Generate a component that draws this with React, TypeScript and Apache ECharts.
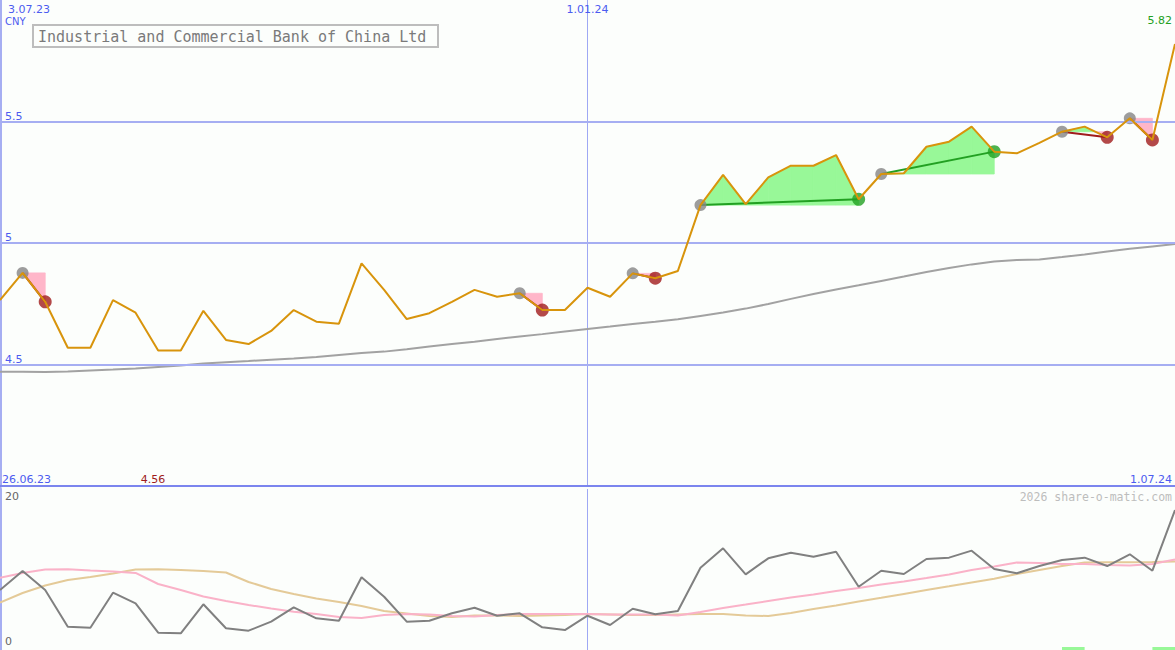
import React, { useEffect, useRef } from "react";
import * as echarts from "echarts";

const dates = [
  "3.07.23", "10.07.23", "17.07.23", "24.07.23", "31.07.23", "7.08.23", "14.08.23", "21.08.23", "28.08.23",
  "4.09.23", "11.09.23", "18.09.23", "25.09.23", "2.10.23", "9.10.23", "16.10.23", "23.10.23", "30.10.23",
  "6.11.23", "13.11.23", "20.11.23", "27.11.23", "4.12.23", "11.12.23", "18.12.23", "25.12.23", "1.01.24",
  "8.01.24", "15.01.24", "22.01.24", "29.01.24", "5.02.24", "12.02.24", "19.02.24", "26.02.24", "4.03.24",
  "11.03.24", "18.03.24", "25.03.24", "1.04.24", "8.04.24", "15.04.24", "22.04.24", "29.04.24", "6.05.24",
  "13.05.24", "20.05.24", "27.05.24", "3.06.24", "10.06.24", "17.06.24", "24.06.24", "1.07.24",
];

const close = [
  4.765, 4.877, 4.758, 4.569, 4.569, 4.765, 4.713, 4.558, 4.558, 4.721,
  4.601, 4.584, 4.638, 4.724, 4.676, 4.668, 4.916, 4.807, 4.687, 4.711,
  4.758, 4.807, 4.779, 4.793, 4.724, 4.724, 4.816, 4.779, 4.875, 4.855,
  4.885, 5.156, 5.280, 5.160, 5.270, 5.318, 5.318, 5.362, 5.180, 5.284,
  5.287, 5.396, 5.417, 5.479, 5.376, 5.369, 5.412, 5.458, 5.479, 5.435,
  5.513, 5.424, 5.819,
];

const trendMA = [
  4.470, 4.470, 4.469, 4.471, 4.475, 4.479, 4.484, 4.490, 4.496, 4.504,
  4.509, 4.514, 4.520, 4.525, 4.531, 4.539, 4.547, 4.553, 4.563, 4.574,
  4.584, 4.594, 4.605, 4.615, 4.625, 4.636, 4.646, 4.656, 4.667, 4.676,
  4.686, 4.700, 4.714, 4.730, 4.749, 4.770, 4.790, 4.809, 4.826, 4.844,
  4.862, 4.881, 4.897, 4.912, 4.924, 4.930, 4.932, 4.942, 4.953, 4.965,
  4.976, 4.986, 4.996,
];

const oscMain = [
  7.45, 9.81, 7.45, 2.89, 2.77, 7.12, 5.80, 2.15, 2.07, 5.68,
  2.70, 2.40, 3.52, 5.30, 3.94, 3.64, 9.03, 6.62, 3.52, 3.64,
  4.56, 5.25, 4.26, 4.56, 2.82, 2.48, 4.26, 3.11, 5.13, 4.43,
  4.84, 10.22, 12.63, 9.40, 11.39, 12.09, 11.59, 12.21, 7.86, 9.85,
  9.44, 11.30, 11.47, 12.34, 10.06, 9.53, 10.43, 11.18, 11.47, 10.43,
  11.89, 9.85, 17.39,
];

const oscFast = [
  8.98, 9.57, 10.0, 10.02, 9.88, 9.75, 9.57, 8.20, 7.45, 6.65,
  6.09, 5.59, 5.16, 4.76, 4.47, 4.10, 3.98, 4.35, 4.47, 4.41,
  4.22, 4.16, 4.35, 4.47, 4.47, 4.47, 4.47, 4.41, 4.41, 4.41,
  4.29, 4.72, 5.22, 5.65, 6.09, 6.52, 6.89, 7.33, 7.70, 8.14,
  8.51, 8.94, 9.38, 9.94, 10.37, 10.87, 10.81, 10.68, 10.68, 10.56,
  10.50, 10.68, 11.24,
];

const oscSlow = [
  5.88, 7.08, 8.01, 8.70, 9.07, 9.50, 10.0, 10.02, 9.94, 9.81,
  9.63, 8.45, 7.58, 6.96, 6.40, 5.96, 5.47, 4.84, 4.53, 4.22,
  4.10, 4.29, 4.29, 4.22, 4.29, 4.35, 4.47, 4.41, 4.35, 4.35,
  4.41, 4.47, 4.47, 4.29, 4.22, 4.60, 5.09, 5.53, 6.02, 6.48,
  6.97, 7.45, 7.91, 8.39, 8.84, 9.44, 9.94, 10.43, 10.87, 10.89,
  10.89, 10.93, 10.99,
];

const tradeEntry = [1, 23, 28, 31, 39, 47, 50];
const tradeExit = [2, 24, 29, 38, 44, 49, 51];
const flagStart = [47, 51];
const priceTicks = [4.5, 5, 5.5];
const lowerTicks = [0, 20];

const BLUE_TEXT = "#4c5cf0";
const GRID_BLUE = "#a6aef2";
const VLINE_BLUE = "#9ea8f4";
const GREEN_FILL = "#98f898";
const PINK_FILL = "#ffb6c9";
const WIN = "#22a022";
const LOSS = "#a01c1c";

export default function App() {
  const ref = useRef<HTMLDivElement>(null);

  useEffect(() => {
    const chart = echarts.init(ref.current!, null, { renderer: "svg" });

    const hi = Math.max(...close);
    const lo = Math.min(...close);
    const firstMonth = 0;
    const yearMark = dates.indexOf("1.01.24");

    const tradeData = tradeEntry.map((e, k) => [e, tradeExit[k], close[e]]);

    const option: any = {
      animation: false,
      backgroundColor: "#fcfefc",
      grid: [
        { left: 0, right: 0, top: 0, height: 486 },
        { left: 0, right: 0, top: 489, height: 161 },
      ],
      xAxis: [
        {
          type: "category", gridIndex: 0, data: dates, boundaryGap: false, position: "bottom",
          axisLine: { show: true, lineStyle: { color: "#7b85ee", width: 2 } },
          axisTick: { show: false }, axisLabel: { show: false },
          splitLine: { show: true, interval: (i: number) => i === yearMark, lineStyle: { color: VLINE_BLUE, width: 1 } },
        },
        {
          type: "category", gridIndex: 0, data: dates, boundaryGap: false, position: "top",
          axisLine: { show: false }, axisTick: { show: false }, splitLine: { show: false },
          axisLabel: {
            show: true, inside: true, margin: 4, verticalAlign: "top",
            interval: (i: number) => i === yearMark,
            color: BLUE_TEXT, fontSize: 11, fontFamily: "DejaVu Sans",
          },
        },
        {
          type: "category", gridIndex: 1, data: dates, boundaryGap: false,
          axisLine: { show: false }, axisTick: { show: false }, axisLabel: { show: false },
          splitLine: { show: true, interval: (i: number) => i === yearMark, lineStyle: { color: VLINE_BLUE, width: 1 } },
        },
      ],
      yAxis: [
        {
          type: "value", gridIndex: 0, min: 4, max: 6, interval: 0.5,
          axisLine: { show: true, lineStyle: { color: GRID_BLUE, width: 4 } },
          axisTick: { show: false }, splitLine: { show: false },
          axisLabel: {
            inside: true, margin: 5, verticalAlign: "bottom", padding: [0, 0, 0, 0],
            color: BLUE_TEXT, fontSize: 11, fontFamily: "DejaVu Sans",
            formatter: (v: number) => (priceTicks.includes(v) ? String(v) : ""),
          },
        },
        {
          type: "value", gridIndex: 1, min: 0, max: 20, interval: 20,
          axisLine: { show: true, lineStyle: { color: GRID_BLUE, width: 4 } },
          axisTick: { show: false }, splitLine: { show: false },
          axisLabel: {
            inside: true, margin: 5, verticalAlign: "top", padding: [2, 0, 0, 0],
            color: "#666666", fontSize: 11, fontFamily: "DejaVu Sans",
            formatter: (v: number) => (v === lowerTicks[1] ? String(v) : ""),
          },
        },
        {
          type: "value", gridIndex: 1, min: 0, max: 20, interval: 20, position: "left",
          axisLine: { show: false }, axisTick: { show: false }, splitLine: { show: false },
          axisLabel: {
            inside: true, margin: 5, verticalAlign: "bottom", padding: [0, 0, 3, 0],
            color: "#666666", fontSize: 11, fontFamily: "DejaVu Sans",
            formatter: (v: number) => (v === lowerTicks[0] ? String(v) : ""),
          },
        },
      ],
      series: [
        {
          type: "line", name: "trend", xAxisIndex: 0, yAxisIndex: 0, data: trendMA,
          showSymbol: false, z: 2,
          lineStyle: { color: "#a2a2a2", width: 2 },
          markLine: {
            silent: true, symbol: ["none", "none"], label: { show: false },
            lineStyle: { color: GRID_BLUE, width: 2, type: "solid" },
            data: priceTicks.map((v) => ({ yAxis: v })),
          },
        },
        {
          type: "custom", name: "trades", xAxisIndex: 0, yAxisIndex: 0, z: 3,
          data: tradeData,
          encode: { x: 0, y: 2 },
          renderItem: (params: any, api: any) => {
            const k = params.dataIndex;
            const e = tradeEntry[k];
            const x = tradeExit[k];
            const base = close[e];
            const children: any[] = [];
            const col = (d: number) => (d >= 0 ? GREEN_FILL : PINK_FILL);
            const poly = (pts: number[][], c: string) => ({
              type: "polygon", shape: { points: pts }, style: { fill: c, stroke: c, lineWidth: 0.8 },
            });
            for (let j = e; j < x; j++) {
              const p0 = close[j];
              const p1 = close[j + 1];
              const d0 = p0 - base;
              const d1 = p1 - base;
              const a = api.coord([j, p0]);
              const b = api.coord([j + 1, p1]);
              const a0 = api.coord([j, base]);
              const b0 = api.coord([j + 1, base]);
              if (d0 * d1 >= 0) {
                const d = Math.abs(d0) > Math.abs(d1) ? d0 : d1;
                children.push(poly([a, b, b0, a0], col(d)));
              } else {
                const t = d0 / (d0 - d1);
                const m = [a0[0] + t * (b0[0] - a0[0]), a0[1]];
                children.push(poly([a, m, a0], col(d0)));
                children.push(poly([m, b, b0], col(d1)));
              }
            }
            const s = api.coord([e, base]);
            const f = api.coord([x, close[x]]);
            children.push({
              type: "line",
              shape: { x1: s[0], y1: s[1], x2: f[0], y2: f[1] },
              style: { stroke: close[x] >= base ? WIN : LOSS, lineWidth: 2 },
            });
            return { type: "group", children };
          },
        },
        {
          type: "scatter", name: "entry", xAxisIndex: 0, yAxisIndex: 0, z: 4,
          symbolSize: 12,
          itemStyle: { color: "#858585" },
          data: tradeEntry.map((e) => [e, close[e]]),
        },
        {
          type: "scatter", name: "exit", xAxisIndex: 0, yAxisIndex: 0, z: 4,
          symbolSize: 13,
          data: tradeExit.map((x, k) => ({
            value: [x, close[x]],
            itemStyle: { color: close[x] >= close[tradeEntry[k]] ? WIN : LOSS },
          })),
        },
        {
          type: "line", name: "close", xAxisIndex: 0, yAxisIndex: 0, data: close,
          showSymbol: false, z: 6,
          lineStyle: { color: "#d8940c", width: 2 },
        },
        {
          type: "line", name: "slow", xAxisIndex: 2, yAxisIndex: 1, data: oscSlow,
          showSymbol: false, z: 2, lineStyle: { color: "#e4ca98", width: 2 },
        },
        {
          type: "line", name: "fast", xAxisIndex: 2, yAxisIndex: 1, data: oscFast,
          showSymbol: false, z: 3, lineStyle: { color: "#fab2c8", width: 2 },
        },
        {
          type: "line", name: "osc", xAxisIndex: 2, yAxisIndex: 1, data: oscMain,
          showSymbol: false, z: 4, lineStyle: { color: "#808080", width: 2 },
        },
        {
          type: "custom", name: "flags", xAxisIndex: 2, yAxisIndex: 1, z: 2,
          data: flagStart.map((s) => [s, 0]),
          encode: { x: 0, y: 1 },
          renderItem: (params: any, api: any) => {
            const s = flagStart[params.dataIndex];
            const a = api.coord([s, 0]);
            const b = api.coord([s + 1, 0]);
            return { type: "rect", shape: { x: a[0], y: a[1] - 3, width: b[0] - a[0], height: 3 }, style: { fill: GREEN_FILL } };
          },
        },
      ],
      graphic: [
        { type: "text", x: 8, y: 4, style: { text: dates[firstMonth], fill: BLUE_TEXT, fontSize: 11, fontFamily: "DejaVu Sans", textVerticalAlign: "top" } },
        { type: "text", x: 5, y: 16, style: { text: "CNY", fill: BLUE_TEXT, fontSize: 10, fontFamily: "DejaVu Sans", textVerticalAlign: "top" } },
        { type: "rect", shape: { x: 33, y: 25, width: 405, height: 22 }, style: { fill: "none", stroke: "#bdbdbd", lineWidth: 2 } },
        { type: "text", x: 38, y: 36.5, style: { text: "Industrial and Commercial Bank of China Ltd", fill: "#7a7a7a", fontSize: 15, fontFamily: "DejaVu Sans Mono", textVerticalAlign: "middle" } },
        { type: "text", x: 1172, y: 15, style: { text: hi.toFixed(2), fill: "#22a022", fontSize: 11, fontFamily: "DejaVu Sans", textAlign: "right", textVerticalAlign: "top" } },
        { type: "text", x: 2, y: 474, style: { text: "26.06.23", fill: BLUE_TEXT, fontSize: 11, fontFamily: "DejaVu Sans", textVerticalAlign: "top" } },
        { type: "text", x: 153, y: 474, style: { text: lo.toFixed(2), fill: "#a01c1c", fontSize: 11, fontFamily: "DejaVu Sans", textAlign: "center", textVerticalAlign: "top" } },
        { type: "text", x: 1172, y: 474, style: { text: dates[dates.length - 1], fill: BLUE_TEXT, fontSize: 11, fontFamily: "DejaVu Sans", textAlign: "right", textVerticalAlign: "top" } },
        { type: "text", x: 1172, y: 491, style: { text: "2026 share-o-matic.com", fill: "#bdbdbd", fontSize: 11.5, fontFamily: "DejaVu Sans Mono", textAlign: "right", textVerticalAlign: "top" } },
      ],
    };

    chart.setOption(option);
    return () => chart.dispose();
  }, []);

  return <div ref={ref} style={{ position: "absolute", left: 0, top: 0, width: 1175, height: 650 }} />;
}
